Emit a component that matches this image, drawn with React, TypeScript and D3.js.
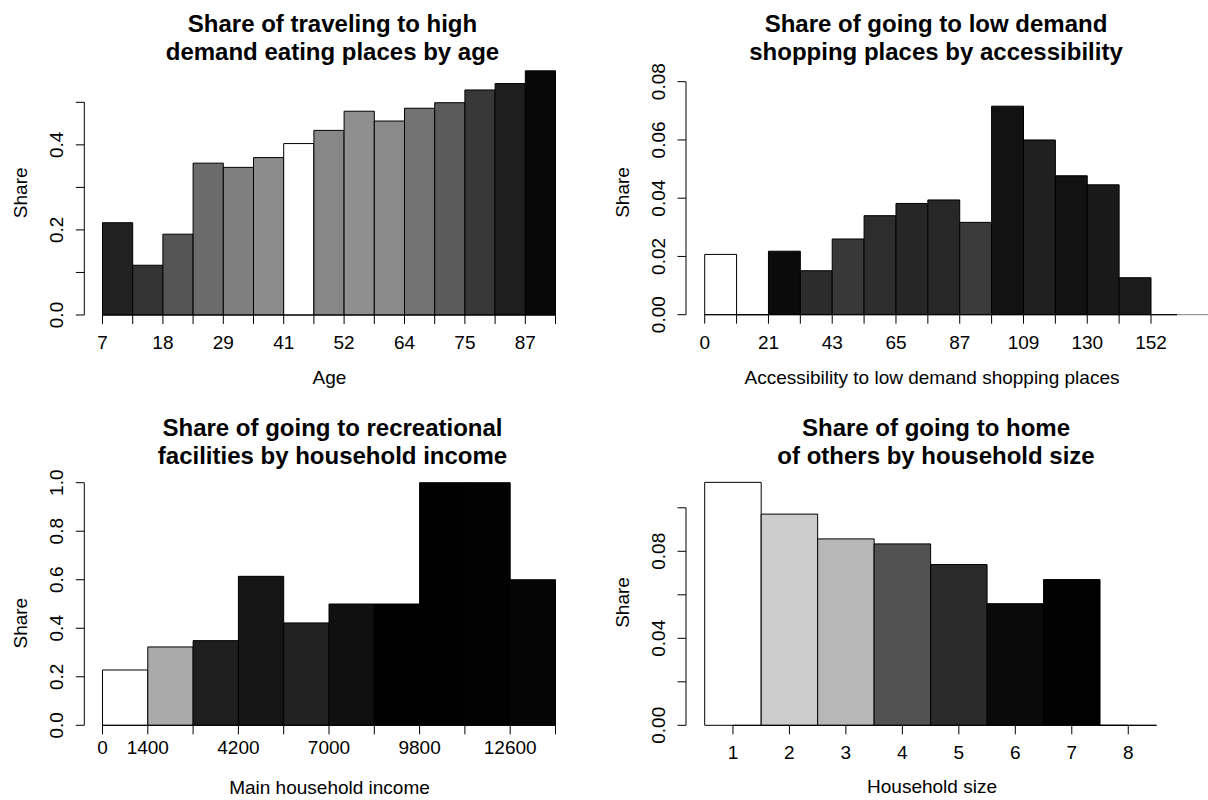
import React from "react";
import * as d3 from "d3";

// ---- Share of travelling to high demand eating places, by age (15 age bins)
const ageShares = [0.217, 0.117, 0.19, 0.357, 0.347, 0.37, 0.403, 0.434, 0.479, 0.456, 0.486, 0.499, 0.529, 0.544, 0.574];
const ageFills = ["#222222", "#333333", "#555555", "#6b6b6b", "#7f7f7f", "#8c8c8c", "#ffffff", "#878787", "#8f8f8f", "#8a8a8a", "#737373", "#5a5a5a", "#383838", "#1e1e1e", "#080808"];
const ageTickLabels = ["7", "18", "29", "41", "52", "64", "75", "87"];
const ageYTicks = [0, 0.1, 0.2, 0.3, 0.4, 0.5];
const ageYLabels = ["0.0", "", "0.2", "", "0.4", ""];

// ---- Share of going to low demand shopping places, by accessibility
const accessShares = [0.0207, 0, 0.0218, 0.0151, 0.026, 0.034, 0.0382, 0.0394, 0.0317, 0.0716, 0.06, 0.0477, 0.0446, 0.0127, 0, 0];
const accessFills = ["#ffffff", "#ffffff", "#0b0b0b", "#2c2c2c", "#383838", "#2d2d2d", "#262626", "#272727", "#3b3b3b", "#121212", "#202020", "#121212", "#191919", "#1b1b1b", "#ffffff", "#ffffff"];
const accessTickLabels = ["0", "21", "43", "65", "87", "109", "130", "152"];
const accessYTicks = [0, 0.02, 0.04, 0.06, 0.08];
const accessYLabels = ["0.00", "0.02", "0.04", "0.06", "0.08"];

// ---- Share of going to recreational facilities, by main household income
const incomeBreaks = [0, 1400, 2800, 4200, 5600, 7000, 8400, 9800, 11200, 12600, 14000];
const incomeLabeled = [0, 1400, 4200, 7000, 9800, 12600];
const incomeShares = [0.228, 0.323, 0.349, 0.614, 0.422, 0.5, 0.5, 1.0, 1.0, 0.6];
const incomeFills = ["#ffffff", "#aaaaaa", "#1e1e1e", "#151515", "#222222", "#101010", "#000000", "#000000", "#020202", "#050505"];
const incomeYTicks = [0, 0.2, 0.4, 0.6, 0.8, 1.0];
const incomeYLabels = ["0.0", "0.2", "0.4", "0.6", "0.8", "1.0"];

// ---- Share of going to home of others, by household size
const householdSizes = ["1", "2", "3", "4", "5", "6", "7", "8"];
const householdShares = [0.1117, 0.0971, 0.0857, 0.0834, 0.0739, 0.0559, 0.067, 0];
const householdFills = ["#ffffff", "#cccccc", "#b7b7b7", "#525252", "#2b2b2b", "#0a0a0a", "#020202", "#ffffff"];
const householdYTicks = [0, 0.02, 0.04, 0.06, 0.08, 0.1];
const householdYLabels = ["0.00", "", "0.04", "", "0.08", ""];

const FONT = "'Liberation Sans', Arial, Helvetica, sans-serif";
const TICK = 9;

type Bar = { x0: number; x1: number; v: number; fill: string };
type XTick = { pos: number; label: string };

interface PanelProps {
  id: string;
  bars: Bar[];
  y: d3.ScaleLinear<number, number>;
  yTicks: number[];
  yLabels: string[];
  yAxisX: number;
  xTicks: XTick[];
  xAxisSpan: [number, number];
  tickLabelY: number;
  xlab: string;
  xlabX: number;
  xlabY: number;
  ylabY: number;
  titleLines: string[];
  titleX: number;
  titleY: number;
  clipRight?: number;
  tailTo?: number;
}

// Bars are drawn as closed paths so that zero-height bins still show their outline
function barPath(b: Bar, base: number, top: number) {
  const p = d3.path();
  p.moveTo(b.x0, base);
  p.lineTo(b.x0, top);
  p.lineTo(b.x1, top);
  p.lineTo(b.x1, base);
  p.closePath();
  return p.toString();
}

function Panel(p: PanelProps) {
  const base = p.y(0);
  const clipId = `clip-${p.id}`;
  return (
    <g>
      {p.clipRight !== undefined && (
        <defs>
          <clipPath id={clipId}>
            <rect x={p.yAxisX} y={0} width={p.clipRight - p.yAxisX} height={800} />
          </clipPath>
        </defs>
      )}
      <g clipPath={p.clipRight !== undefined ? `url(#${clipId})` : undefined}>
        {p.bars.map((b, i) => (
          <path key={i} d={barPath(b, base, p.y(b.v))} fill={b.fill} stroke="#000" strokeWidth={1} />
        ))}
      </g>
      {p.tailTo !== undefined && p.clipRight !== undefined && (
        <line x1={p.clipRight} x2={p.tailTo} y1={base} y2={base} stroke="#808080" strokeWidth={1} />
      )}
      {/* x axis */}
      <line x1={p.xAxisSpan[0]} x2={p.xAxisSpan[1]} y1={base} y2={base} stroke="#000" strokeWidth={1} />
      {p.xTicks.map((t, i) => (
        <g key={i}>
          <line x1={t.pos} x2={t.pos} y1={base} y2={base + TICK} stroke="#000" strokeWidth={1} />
          {t.label && (
            <text x={t.pos} y={p.tickLabelY + 6.8} textAnchor="middle" fontSize={19} fontFamily={FONT} fill="#000">
              {t.label}
            </text>
          )}
        </g>
      ))}
      {/* y axis */}
      <line
        x1={p.yAxisX}
        x2={p.yAxisX}
        y1={p.y(p.yTicks[0])}
        y2={p.y(p.yTicks[p.yTicks.length - 1])}
        stroke="#000"
        strokeWidth={1}
      />
      {p.yTicks.map((t, i) => (
        <g key={i}>
          <line x1={p.yAxisX - TICK + 0.5} x2={p.yAxisX} y1={p.y(t)} y2={p.y(t)} stroke="#000" strokeWidth={1} />
          {p.yLabels[i] && (
            <text
              transform={`translate(${p.yAxisX - 21.5},${p.y(t)}) rotate(-90)`}
              textAnchor="middle"
              fontSize={19}
              fontFamily={FONT}
              fill="#000"
            >
              {p.yLabels[i]}
            </text>
          )}
        </g>
      ))}
      <text
        transform={`translate(${p.yAxisX - 57.5},${p.ylabY}) rotate(-90)`}
        textAnchor="middle"
        fontSize={19}
        fontFamily={FONT}
        fill="#000"
      >
        Share
      </text>
      <text x={p.xlabX} y={p.xlabY} textAnchor="middle" fontSize={19} fontFamily={FONT} fill="#000">
        {p.xlab}
      </text>
      {p.titleLines.map((line, i) => (
        <text
          key={i}
          x={p.titleX}
          y={p.titleY + i * 28}
          textAnchor="middle"
          fontSize={24}
          fontWeight="bold"
          fontFamily={FONT}
          fill="#000"
        >
          {line}
        </text>
      ))}
    </g>
  );
}

export default function App() {
  // Age panel
  const xAge = d3.scaleLinear().domain([0, ageShares.length]).range([102.5, 555.5]);
  const yAge = d3.scaleLinear().domain([0, 0.5]).range([315, 102.3]);
  const ageBars: Bar[] = ageShares.map((v, i) => ({ x0: xAge(i), x1: xAge(i + 1), v, fill: ageFills[i] }));
  const ageTicks: XTick[] = d3.range(ageShares.length + 1).map((i) => ({
    pos: xAge(i),
    label: i % 2 === 0 ? ageTickLabels[i / 2] ?? "" : "",
  }));

  // Accessibility panel
  const xAcc = d3.scaleLinear().domain([0, 14]).range([704.7, 1151]);
  const yAcc = d3.scaleLinear().domain([0, 0.08]).range([314.7, 81.7]);
  const accBars: Bar[] = accessShares.map((v, i) => ({ x0: xAcc(i), x1: xAcc(i + 1), v, fill: accessFills[i] }));
  const accTicks: XTick[] = d3.range(15).map((i) => ({
    pos: xAcc(i),
    label: i % 2 === 0 ? accessTickLabels[i / 2] ?? "" : "",
  }));

  // Income panel
  const xInc = d3.scaleLinear().domain([0, 14000]).range([102.5, 555.5]);
  const yInc = d3.scaleLinear().domain([0, 1]).range([725.3, 482.7]);
  const incBars: Bar[] = incomeShares.map((v, i) => ({
    x0: xInc(incomeBreaks[i]),
    x1: xInc(incomeBreaks[i + 1]),
    v,
    fill: incomeFills[i],
  }));
  const incTicks: XTick[] = incomeBreaks.map((b) => ({
    pos: xInc(b),
    label: incomeLabeled.includes(b) ? String(b) : "",
  }));

  // Household size panel
  const xHh = d3.scaleBand<string>().domain(householdSizes).range([704.7, 1156.5]).padding(0);
  const yHh = d3.scaleLinear().domain([0, 0.1]).range([725.3, 507.8]);
  const hhBars: Bar[] = householdShares.map((v, i) => ({
    x0: xHh(householdSizes[i])!,
    x1: xHh(householdSizes[i])! + xHh.bandwidth(),
    v,
    fill: householdFills[i],
  }));
  const hhTicks: XTick[] = householdSizes.map((s) => ({ pos: xHh(s)! + xHh.bandwidth() / 2, label: s }));

  return (
    <svg
      width={1208}
      height={800}
      viewBox="0 0 1208 800"
      style={{ position: "absolute", left: 0, top: 0, background: "#fff" }}
    >
      <rect x={0} y={0} width={1208} height={800} fill="#fff" />
      <Panel
        id="age"
        bars={ageBars}
        y={yAge}
        yTicks={ageYTicks}
        yLabels={ageYLabels}
        yAxisX={84.3}
        xTicks={ageTicks}
        xAxisSpan={[xAge(0), xAge(ageShares.length)]}
        tickLabelY={341.7}
        xlab="Age"
        xlabX={329.5}
        xlabY={384}
        ylabY={192.8}
        titleLines={["Share of traveling to high", "demand eating places by age"]}
        titleX={332.5}
        titleY={31.5}
      />
      <Panel
        id="access"
        bars={accBars}
        y={yAcc}
        yTicks={accessYTicks}
        yLabels={accessYLabels}
        yAxisX={686}
        xTicks={accTicks}
        xAxisSpan={[xAcc(0), xAcc(14)]}
        tickLabelY={341.7}
        xlab="Accessibility to low demand shopping places"
        xlabX={932}
        xlabY={384}
        ylabY={192.5}
        titleLines={["Share of going to low demand", "shopping places by accessibility"]}
        titleX={936}
        titleY={31.5}
        clipRight={1177}
        tailTo={1208}
      />
      <Panel
        id="income"
        bars={incBars}
        y={yInc}
        yTicks={incomeYTicks}
        yLabels={incomeYLabels}
        yAxisX={84.3}
        xTicks={incTicks}
        xAxisSpan={[xInc(0), xInc(14000)]}
        tickLabelY={746.7}
        xlab="Main household income"
        xlabX={329.5}
        xlabY={794}
        ylabY={623.2}
        titleLines={["Share of going to recreational", "facilities by household income"]}
        titleX={332.5}
        titleY={435.5}
      />
      <Panel
        id="household"
        bars={hhBars}
        y={yHh}
        yTicks={householdYTicks}
        yLabels={householdYLabels}
        yAxisX={686}
        xTicks={hhTicks}
        xAxisSpan={[hhTicks[0].pos, hhTicks[hhTicks.length - 1].pos]}
        tickLabelY={751.7}
        xlab="Household size"
        xlabX={932}
        xlabY={793.3}
        ylabY={602.5}
        titleLines={["Share of going to home", "of others by household size"]}
        titleX={936}
        titleY={435.5}
      />
    </svg>
  );
}
